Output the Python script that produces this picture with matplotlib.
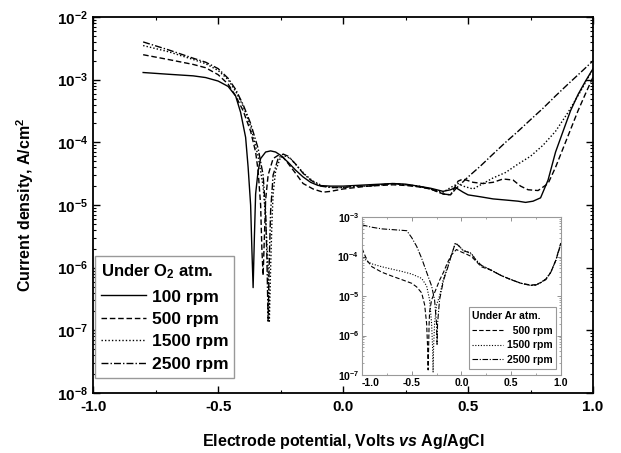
import math
import matplotlib
matplotlib.use("Agg")
import matplotlib.pyplot as plt
from matplotlib.ticker import FixedLocator, MultipleLocator, LogLocator, NullFormatter

plt.rcParams['font.family'] = ['Liberation Sans', 'DejaVu Sans']
plt.rcParams['font.weight'] = 'bold'
plt.rcParams['mathtext.fontset'] = 'custom'
plt.rcParams['mathtext.rm'] = 'Liberation Sans:bold'
plt.rcParams['mathtext.bf'] = 'Liberation Sans:bold'
plt.rcParams['mathtext.it'] = 'Liberation Sans:bold:italic'

# ---- main plot: under O2 ----
v_100 = [-0.80, -0.70, -0.60, -0.55, -0.50, -0.46, -0.43, -0.41, -0.39, -0.38, -0.37, -0.365, -0.36,
         -0.355, -0.35, -0.34, -0.33, -0.31, -0.29, -0.27, -0.25, -0.22, -0.19, -0.16, -0.13, -0.10,
         -0.05, 0.00, 0.05, 0.10, 0.15, 0.20, 0.25, 0.30, 0.35, 0.40, 0.43, 0.45, 0.48, 0.50, 0.55,
         0.60, 0.65, 0.70, 0.73, 0.76, 0.79, 0.82, 0.85, 0.88, 0.91, 0.94, 0.97, 1.00]
j_100 = [1.3e-3, 1.22e-3, 1.15e-3, 1.08e-3, 9.5e-4, 7.8e-4, 5.5e-4, 3.0e-4, 1.2e-4, 4e-5, 1e-5, 2e-6, 4.8e-7,
         3e-6, 1.5e-5, 3.5e-5, 5.5e-5, 7e-5, 7.3e-5, 7e-5, 6.2e-5, 4.8e-5, 3.6e-5, 2.8e-5, 2.3e-5, 2.05e-5,
         2e-5, 2e-5, 2.05e-5, 2.1e-5, 2.15e-5, 2.2e-5, 2.15e-5, 2.0e-5, 1.85e-5, 1.65e-5, 1.75e-5, 1.9e-5,
         1.6e-5, 1.45e-5, 1.35e-5, 1.25e-5, 1.2e-5, 1.15e-5, 1.1e-5, 1.15e-5, 1.3e-5, 2.5e-5, 7e-5, 1.5e-4,
         3.2e-4, 5.8e-4, 9.5e-4, 1.5e-3]

v_500 = [-0.80, -0.70, -0.60, -0.55, -0.50, -0.46, -0.43, -0.40, -0.37, -0.35, -0.34, -0.33, -0.325, -0.32,
         -0.315, -0.31, -0.30, -0.28, -0.26, -0.24, -0.22, -0.19, -0.16, -0.12, -0.08, -0.05, 0.00, 0.05,
         0.10, 0.15, 0.20, 0.25, 0.30, 0.35, 0.40, 0.43, 0.46, 0.48, 0.52, 0.56, 0.60, 0.64, 0.68, 0.71,
         0.74, 0.78, 0.82, 0.85, 0.88, 0.91, 0.94, 0.97, 1.00]
j_500 = [2.5e-3, 2.1e-3, 1.75e-3, 1.55e-3, 1.2e-3, 8.5e-4, 5.5e-4, 3.2e-4, 1.5e-4, 7e-5, 3.5e-5, 1e-5, 2e-6,
         7.5e-7, 3e-6, 1.2e-5, 3e-5, 5.5e-5, 6.2e-5, 5.8e-5, 4.6e-5, 3.2e-5, 2.2e-5, 1.8e-5, 1.6e-5, 1.65e-5,
         1.8e-5, 1.9e-5, 2e-5, 2.05e-5, 2.1e-5, 2.05e-5, 1.95e-5, 1.8e-5, 1.5e-5, 1.45e-5, 2.4e-5, 2.6e-5,
         2.3e-5, 2.2e-5, 2.3e-5, 2.6e-5, 2.5e-5, 2e-5, 1.75e-5, 1.7e-5, 2.2e-5, 4e-5, 8e-5, 1.6e-4, 3.2e-4,
         6e-4, 1.1e-3]

v_1500 = [-0.80, -0.70, -0.60, -0.55, -0.50, -0.46, -0.43, -0.40, -0.37, -0.34, -0.32, -0.31, -0.30, -0.295,
          -0.29, -0.285, -0.28, -0.27, -0.25, -0.23, -0.21, -0.18, -0.15, -0.12, -0.08, -0.04, 0.00, 0.05,
          0.10, 0.15, 0.20, 0.25, 0.30, 0.35, 0.40, 0.43, 0.46, 0.48, 0.52, 0.56, 0.60, 0.65, 0.70, 0.75,
          0.80, 0.85, 0.90, 0.95, 1.00]
j_1500 = [3.5e-3, 2.8e-3, 2.1e-3, 1.8e-3, 1.4e-3, 1.0e-3, 6.5e-4, 3.8e-4, 1.8e-4, 6e-5, 2e-5, 6e-6, 1e-6, 1.4e-7,
          1e-6, 5e-6, 1.5e-5, 3.5e-5, 5.8e-5, 6e-5, 5.5e-5, 4e-5, 3e-5, 2.4e-5, 2e-5, 1.9e-5, 1.9e-5, 2e-5,
          2e-5, 2.1e-5, 2.2e-5, 2.1e-5, 2e-5, 1.8e-5, 1.6e-5, 1.9e-5, 2.2e-5, 2e-5, 1.8e-5, 2.2e-5, 2.7e-5,
          3.3e-5, 4.5e-5, 6e-5, 9e-5, 1.5e-4, 3e-4, 6.5e-4, 1.5e-3]

v_2500 = [-0.80, -0.70, -0.60, -0.55, -0.50, -0.46, -0.43, -0.40, -0.37, -0.34, -0.32, -0.31, -0.305, -0.30,
          -0.295, -0.29, -0.28, -0.26, -0.24, -0.22, -0.19, -0.16, -0.13, -0.09, -0.05, 0.00, 0.05, 0.10,
          0.15, 0.20, 0.25, 0.30, 0.35, 0.40, 0.43, 0.45, 0.50, 0.55, 0.60, 0.65, 0.70, 0.75, 0.80, 0.85,
          0.90, 0.95, 1.00]
j_2500 = [4e-3, 3e-3, 2.2e-3, 1.9e-3, 1.5e-3, 1.05e-3, 7e-4, 4e-4, 2e-4, 8e-5, 3e-5, 8e-6, 1.5e-6, 1.4e-7,
          1.5e-6, 8e-6, 3e-5, 5.5e-5, 6.5e-5, 6e-5, 4.5e-5, 3.2e-5, 2.5e-5, 2e-5, 1.9e-5, 1.9e-5, 2e-5, 2e-5,
          2.1e-5, 2.2e-5, 2.1e-5, 2e-5, 1.8e-5, 1.5e-5, 1.45e-5, 1.8e-5, 2.8e-5, 4.2e-5, 6.5e-5, 1e-4,
          1.5e-4, 2.3e-4, 3.5e-4, 5.5e-4, 8.5e-4, 1.3e-3, 2e-3]

# ---- inset: under Ar ----
ar_v_500 = [-1.0, -0.95, -0.9, -0.8, -0.7, -0.6, -0.5, -0.45, -0.4, -0.37, -0.35, -0.34, -0.335, -0.33,
            -0.325, -0.32, -0.3, -0.26, -0.22, -0.18, -0.14, -0.10, -0.05, 0.0, 0.05, 0.1, 0.15, 0.2, 0.3,
            0.4, 0.5, 0.6, 0.7, 0.75, 0.8, 0.85, 0.9, 0.95, 1.0]
ar_j_500 = [1.6e-4, 8e-5, 5.5e-5, 4e-5, 3.2e-5, 2.6e-5, 2.1e-5, 1.7e-5, 1.2e-5, 6e-6, 2e-6, 5e-7, 1.35e-7, 5e-7,
            2e-6, 4e-6, 8e-6, 1.4e-5, 2.5e-5, 4e-5, 7e-5, 1.1e-4, 1.5e-4, 1.3e-4, 1.15e-4, 1e-4, 7.5e-5, 5.5e-5,
            4.5e-5, 3.3e-5, 2.6e-5, 2.1e-5, 1.9e-5, 1.95e-5, 2.2e-5, 2.6e-5, 4e-5, 8e-5, 2e-4]

ar_v_1500 = [-1.0, -0.95, -0.9, -0.8, -0.7, -0.6, -0.5, -0.4, -0.35, -0.32, -0.3, -0.29, -0.285, -0.28, -0.27,
             -0.25, -0.22, -0.18, -0.14, -0.10, -0.06, -0.02, 0.02, 0.06, 0.10, 0.15, 0.2, 0.3, 0.4, 0.5, 0.6,
             0.7, 0.75, 0.8, 0.85, 0.9, 0.95, 1.0]
ar_j_1500 = [1.1e-4, 7.5e-5, 6.5e-5, 5.5e-5, 4.8e-5, 4.2e-5, 3.6e-5, 2.8e-5, 1.8e-5, 8e-6, 2e-6, 5e-7, 1.2e-7,
             5e-7, 2e-6, 6e-6, 1e-5, 2.8e-5, 5.5e-5, 1.1e-4, 2.2e-4, 1.8e-4, 1.4e-4, 1.35e-4, 1.2e-4, 8e-5,
             6e-5, 4.5e-5, 3.3e-5, 2.6e-5, 2.1e-5, 1.85e-5, 1.9e-5, 2.2e-5, 2.7e-5, 4e-5, 8e-5, 2.1e-4]

ar_v_2500 = [-1.0, -0.9, -0.8, -0.7, -0.6, -0.55, -0.5, -0.45, -0.4, -0.35, -0.3, -0.27, -0.25, -0.245, -0.24,
             -0.22, -0.18, -0.14, -0.10, -0.06, -0.02, 0.02, 0.06, 0.10, 0.15, 0.2, 0.3, 0.4, 0.5, 0.6, 0.7,
             0.75, 0.8, 0.85, 0.9, 0.95, 1.0]
ar_j_2500 = [6.3e-4, 5.5e-4, 5e-4, 4.8e-4, 4.6e-4, 4.5e-4, 3e-4, 1.8e-4, 9e-5, 4e-5, 1.8e-5, 8e-6, 2e-6, 6e-7,
             2e-6, 8e-6, 2.5e-5, 5e-5, 1.1e-4, 2.2e-4, 1.8e-4, 1.4e-4, 1.3e-4, 1.15e-4, 8e-5, 6e-5, 4.5e-5,
             3.3e-5, 2.6e-5, 2.1e-5, 1.85e-5, 1.9e-5, 2.2e-5, 2.7e-5, 4e-5, 8e-5, 2.2e-4]

x_ticks = [-1.0, -0.5, 0.0, 0.5, 1.0]
main_decades = [1e-8, 1e-7, 1e-6, 1e-5, 1e-4, 1e-3, 1e-2]
inset_decades = [1e-7, 1e-6, 1e-5, 1e-4, 1e-3]


def dec_label(d):
    e = int(round(math.log10(d)))
    return r"$\mathbf{10^{%d}}$" % e


fig = plt.figure(figsize=(6.21, 4.53), dpi=100)
ax = fig.add_axes([0.150, 0.1325, 0.805, 0.83])

ls_dash = (0, (4, 2))
ls_dot = (0, (1, 1.5))
ls_dd = (0, (5, 1.5, 1, 1.5))

ax.plot(v_100, j_100, color='black', lw=1.0, ls='-', label='100 rpm')
ax.plot(v_500, j_500, color='black', lw=1.0, ls=ls_dash, label='500 rpm')
ax.plot(v_1500, j_1500, color='black', lw=1.0, ls=ls_dot, label='1500 rpm')
ax.plot(v_2500, j_2500, color='black', lw=1.0, ls=ls_dd, label='2500 rpm')

ax.set_yscale('log')
ax.set_xlim(-1.0, 1.0)
ax.set_ylim(1e-8, 1e-2)
ax.xaxis.set_major_locator(FixedLocator(x_ticks))
ax.xaxis.set_minor_locator(MultipleLocator(0.25))
ax.set_xticklabels([f"{t:.1f}" for t in x_ticks], fontsize=11, fontweight='bold')
ax.yaxis.set_major_locator(FixedLocator(main_decades))
ax.yaxis.set_minor_locator(LogLocator(base=10, subs=range(2, 10), numticks=20))
ax.yaxis.set_minor_formatter(NullFormatter())
ax.set_yticklabels([dec_label(d) for d in main_decades], fontsize=11)
ax.tick_params(which='both', direction='in', top=True, right=True)
ax.tick_params(which='major', length=5, width=1)
ax.tick_params(which='minor', length=2.5, width=0.8)
ax.tick_params(axis='x', which='major', pad=5)
for s in ax.spines.values():
    s.set_linewidth(1.3)

ax.set_xlabel(r"Electrode potential, Volts $\mathit{vs}$ Ag/AgCl", fontsize=11.5, fontweight='bold', labelpad=13)
ax.set_ylabel(r"Current density, A/cm$^\mathbf{2}$", fontsize=11.5, fontweight='bold', labelpad=15)

leg = ax.legend(loc='lower left', bbox_to_anchor=(0.004, 0.04), title=r"Under O$_\mathbf{2}$ atm.",
                prop={'size': 12.5, 'weight': 'bold'}, title_fontproperties={'size': 12, 'weight': 'bold'},
                fancybox=False, edgecolor='0.6', framealpha=1, handlelength=2.6, handletextpad=0.3,
                labelspacing=0.42, borderpad=0.35, alignment='left', borderaxespad=0)
leg.get_frame().set_linewidth(1.0)
leg._legend_box.sep = 6

# inset
ins = fig.add_axes([0.583, 0.172, 0.320, 0.349])
ins.plot(ar_v_500, ar_j_500, color='black', lw=0.8, ls=ls_dash, label='  500 rpm')
ins.plot(ar_v_1500, ar_j_1500, color='black', lw=0.8, ls=ls_dot, label='1500 rpm')
ins.plot(ar_v_2500, ar_j_2500, color='black', lw=0.8, ls=ls_dd, label='2500 rpm')
ins.set_yscale('log')
ins.set_xlim(-1.0, 1.0)
ins.set_ylim(1e-7, 1e-3)
ins.xaxis.set_major_locator(FixedLocator(x_ticks))
ins.xaxis.set_minor_locator(MultipleLocator(0.25))
ins.set_xticklabels([f"{t:.1f}" for t in x_ticks], fontsize=7.5, fontweight='bold')
ins.get_xticklabels()[0].set_horizontalalignment('left')
ins.yaxis.set_major_locator(FixedLocator(inset_decades))
ins.yaxis.set_minor_locator(LogLocator(base=10, subs=range(2, 10), numticks=20))
ins.yaxis.set_minor_formatter(NullFormatter())
ins.set_yticklabels([dec_label(d) for d in inset_decades], fontsize=7.5)
ins.tick_params(which='both', direction='in', top=True, right=True, color='0.5', pad=2)
ins.tick_params(which='major', length=3, width=0.6)
ins.tick_params(which='minor', length=1.5, width=0.5)
for s in ins.spines.values():
    s.set_linewidth(0.8)
    s.set_edgecolor('0.6')

ileg = ins.legend(loc='lower right', bbox_to_anchor=(0.975, 0.04), title="Under Ar atm.",
                  prop={'size': 7.5, 'weight': 'bold'}, title_fontproperties={'size': 7.5, 'weight': 'bold'},
                  fancybox=False, edgecolor='0.6', framealpha=1, handlelength=3.0, handletextpad=0.3,
                  labelspacing=0.45, borderpad=0.35, alignment='left', borderaxespad=0)
ileg.get_frame().set_linewidth(0.8)

fig.savefig("out.png", dpi=100)
